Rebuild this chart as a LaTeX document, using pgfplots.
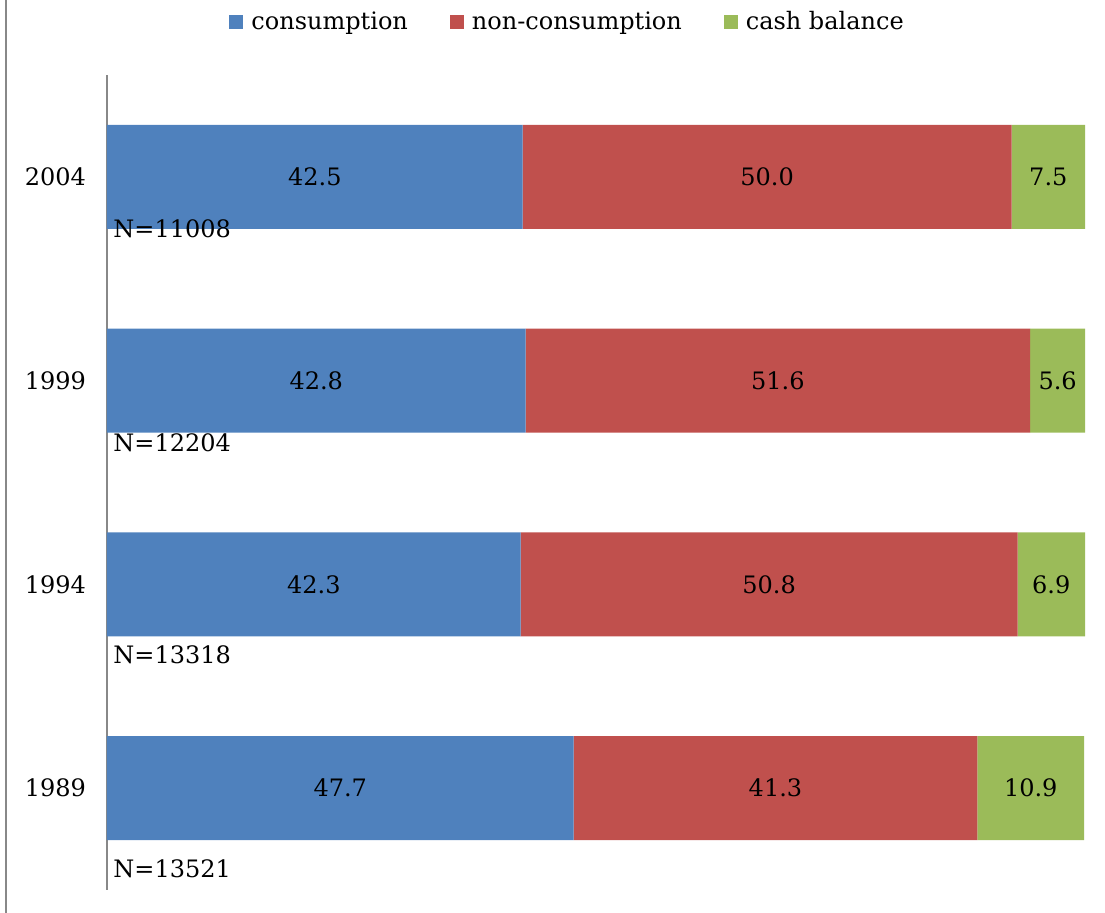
\documentclass[border=0pt]{standalone}
\usepackage{pgfplots}
\usepackage{pgfplotstable}
\pgfplotsset{compat=1.18}
\usepackage{fontspec}
\setmainfont{DejaVu Serif}
\definecolor{cblue}{HTML}{4F81BD}
\definecolor{cred}{HTML}{C0504D}
\definecolor{cgreen}{HTML}{9BBB59}
\definecolor{axgray}{HTML}{888888}
\pgfplotstableread{
y c n g
0 47.7 41.3 10.9
1 42.3 50.8 6.9
2 42.8 51.6 5.6
3 42.5 50.0 7.5
}\data
\pgfplotsset{common/.style={
  at={(0,0)}, anchor=south west,
  scale only axis, width=489pt, height=407.5pt,
  xmin=0, xmax=100, ymin=-0.5, ymax=3.5, clip=false}}
\begin{document}
\begin{tikzpicture}[font=\fontsize{12}{14}\selectfont]
\useasboundingbox (-53.5pt,-11.5pt) rectangle (499pt,445pt);
\draw[axgray, line width=1pt] (-50.5pt,-11.5pt) -- (-50.5pt,445pt);
\begin{axis}[
  common,
  xbar stacked, bar width=52pt,
  hide x axis,
  axis y line*=left,
  y axis line style={axgray, line width=0.75pt},
  ytick={0,1,2,3}, yticklabels={1989,1994,1999,2004},
  ytick style={draw=none},
  yticklabel style={xshift=-7pt},
  legend columns=3,
  legend style={draw=none, at={(0.472,1.065)}, anchor=center, fill=none,
    /tikz/every even column/.append style={column sep=19pt},
    /tikz/every odd column/.append style={column sep=2pt},
    inner sep=0pt},
  legend image code/.code={\fill[#1] (0pt,-3.5pt) rectangle (7pt,3.5pt);},
]
\addplot[fill=cblue, draw=none] table[x=c, y=y] {\data};
\addplot[fill=cred, draw=none] table[x=n, y=y] {\data};
\addplot[fill=cgreen, draw=none] table[x=g, y=y] {\data};
\legend{consumption, non-consumption, cash balance}
\end{axis}
\begin{axis}[
  common, hide axis,
  /pgf/number format/assume math mode=true,
  point meta=explicit,
  nodes near coords={\pgfmathprintnumber[fixed,precision=1,fixed zerofill]{\pgfplotspointmeta}},
  every node near coord/.append style={anchor=center, text=black, inner sep=0pt},
]
\addplot[draw=none, mark=none] table[x expr=\thisrow{c}/2, y=y, meta=c] {\data};
\addplot[draw=none, mark=none] table[x expr=\thisrow{c}+\thisrow{n}/2, y=y, meta=n] {\data};
\addplot[draw=none, mark=none] table[x expr=\thisrow{c}+\thisrow{n}+\thisrow{g}/2, y=y, meta=g] {\data};
\node[anchor=base west, inner sep=0pt, xshift=3pt] at (axis cs:0,2.700) {N=11008};
\node[anchor=base west, inner sep=0pt, xshift=3pt] at (axis cs:0,1.650) {N=12204};
\node[anchor=base west, inner sep=0pt, xshift=3pt] at (axis cs:0,0.614) {N=13318};
\node[anchor=base west, inner sep=0pt, xshift=3pt] at (axis cs:0,-0.441) {N=13521};
\end{axis}
\end{tikzpicture}
\end{document}
